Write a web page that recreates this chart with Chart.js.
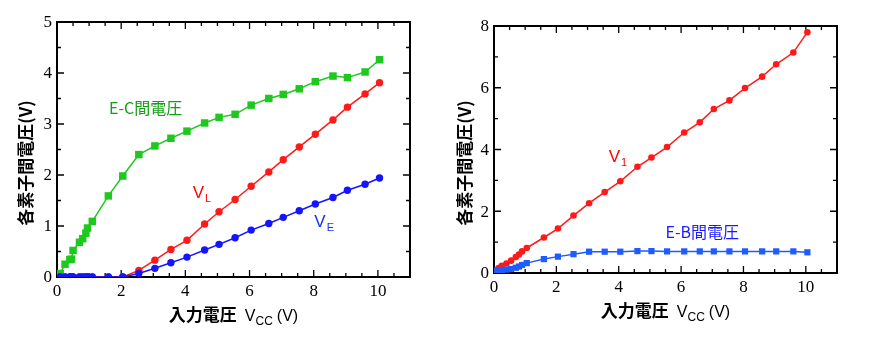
<!DOCTYPE html>
<html>
<head>
<meta charset="utf-8">
<script src="https://cdn.jsdelivr.net/npm/chart.js@4.4.1/dist/chart.umd.min.js"></script>
<style>
  body { margin: 0; background: #fff; width: 876px; height: 339px; overflow: hidden; position: relative; }
  canvas { position: absolute; top: 0; }
  #left-chart { left: 0; }
  #right-chart { left: 440px; }
</style>
</head>
<body>
<canvas id="left-chart" width="440" height="339"></canvas>
<canvas id="right-chart" width="436" height="339"></canvas>
<script>
// Left chart: E-C voltage, V_L, V_E against Vcc
const vccLeft = [0.1, 0.25, 0.4, 0.45, 0.5, 0.7, 0.8, 0.9, 0.95, 1.1, 1.6, 2.05,
    2.55, 3.05, 3.55, 4.05, 4.6, 5.05, 5.55, 6.05, 6.6, 7.05, 7.55, 8.05, 8.6, 9.05, 9.6, 10.05];
const ecVoltage = [0.07, 0.25, 0.34, 0.35, 0.52, 0.68, 0.75, 0.86, 0.96, 1.09, 1.59, 1.98,
    2.40, 2.57, 2.72, 2.86, 3.02, 3.13, 3.19, 3.37, 3.50, 3.58, 3.69, 3.83, 3.94, 3.91, 4.02, 4.26];
const vL = [0, 0, 0, 0, 0, 0, 0, 0, 0, 0, 0, 0,
    0.13, 0.33, 0.54, 0.72, 1.04, 1.28, 1.52, 1.78, 2.06, 2.30, 2.55, 2.80, 3.08, 3.33, 3.59, 3.81];
const vE = [0, 0, 0, 0, 0, 0, 0, 0, 0, 0, 0, 0,
    0.07, 0.17, 0.28, 0.39, 0.53, 0.64, 0.77, 0.92, 1.05, 1.17, 1.30, 1.43, 1.56, 1.70, 1.82, 1.94];
const xTicksLeft = [0, 2, 4, 6, 8, 10];
const yTicksLeft = [0, 1, 2, 3, 4, 5];

// Right chart: V_1 and E-B voltage against Vcc
const vccRight = [0.05, 0.15, 0.25, 0.4, 0.55, 0.7, 0.8, 0.9, 1.05, 1.6, 2.05, 2.55, 3.05, 3.55,
    4.05, 4.6, 5.05, 5.55, 6.1, 6.6, 7.05, 7.55, 8.05, 8.6, 9.05, 9.6, 10.05];
const v1 = [0.08, 0.16, 0.23, 0.31, 0.40, 0.52, 0.60, 0.70, 0.81, 1.15, 1.44, 1.86, 2.26, 2.62,
    2.97, 3.44, 3.74, 4.08, 4.55, 4.88, 5.31, 5.59, 5.99, 6.36, 6.76, 7.14, 7.80];
const ebVoltage = [0.05, 0.08, 0.10, 0.11, 0.13, 0.17, 0.21, 0.26, 0.32, 0.45, 0.53, 0.61, 0.69, 0.69,
    0.69, 0.71, 0.71, 0.70, 0.70, 0.70, 0.70, 0.70, 0.70, 0.70, 0.70, 0.70, 0.67];
const xTicksRight = [0, 2, 4, 6, 8, 10];
const yTicksRight = [0, 2, 4, 6, 8];

const toPoints = (xs, ys) => xs.map((x, i) => ({ x: x, y: ys[i] }));

const CJK = '"Noto Sans CJK JP", sans-serif';
const SANS = '"Liberation Sans", Arial, sans-serif';
const SERIF = '17px "Liberation Serif", serif';

// draw a run of text pieces (for subscripts) starting at x, baseline y
function drawParts(ctx, parts, x, y, color) {
    ctx.fillStyle = color;
    ctx.textBaseline = 'alphabetic';
    ctx.textAlign = 'left';
    for (const p of parts) {
        ctx.font = p.font;
        ctx.fillText(p.text, x, y + (p.dy || 0));
        x += ctx.measureText(p.text).width + (p.gap || 0);
    }
    return x;
}
function partsWidth(ctx, parts) {
    let w = 0;
    for (const p of parts) {
        ctx.font = p.font;
        w += ctx.measureText(p.text).width + (p.gap || 0);
    }
    return w;
}

const xTitleParts = [
    { text: '入力電圧', font: 'bold 17px ' + CJK, gap: 8 },
    { text: 'V', font: '16px ' + SANS },
    { text: 'CC', font: '12px ' + SANS, dy: 4, gap: 4 },
    { text: '(V)', font: '16px ' + SANS }
];

// frame with inward ticks on all four sides, tick labels, titles and series labels
const decoPlugin = {
    id: 'deco',
    beforeDatasetsDraw(chart, args, o) {
        const { ctx, chartArea: a, scales: { x, y } } = chart;
        ctx.save();
        ctx.strokeStyle = '#000';
        ctx.lineWidth = 1.3;
        ctx.beginPath();
        const nx = Math.round((x.max - x.min) / o.xMinor);
        for (let i = 0; i <= nx; i++) {
            const v = x.min + i * o.xMinor;
            const px = x.getPixelForValue(v);
            const len = Math.abs(v / o.xMajor - Math.round(v / o.xMajor)) < 1e-6 ? 7 : 4;
            ctx.moveTo(px, a.bottom); ctx.lineTo(px, a.bottom - len);
            ctx.moveTo(px, a.top); ctx.lineTo(px, a.top + len);
        }
        const ny = Math.round((y.max - y.min) / o.yMinor);
        for (let i = 0; i <= ny; i++) {
            const v = y.min + i * o.yMinor;
            const py = y.getPixelForValue(v);
            const len = Math.abs(v / o.yMajor - Math.round(v / o.yMajor)) < 1e-6 ? 7 : 4;
            ctx.moveTo(a.left, py); ctx.lineTo(a.left + len, py);
            ctx.moveTo(a.right, py); ctx.lineTo(a.right - len, py);
        }
        ctx.stroke();
        ctx.lineWidth = 2;
        ctx.strokeRect(a.left, a.top, a.right - a.left, a.bottom - a.top);

        // tick labels from the scales' own ticks
        ctx.font = SERIF;
        ctx.fillStyle = '#000';
        ctx.textAlign = 'center';
        ctx.textBaseline = 'top';
        for (const t of x.ticks) {
            ctx.fillText(String(t.value), x.getPixelForValue(t.value), a.bottom + 6);
        }
        ctx.textAlign = 'right';
        ctx.textBaseline = 'middle';
        for (const t of y.ticks) {
            ctx.fillText(String(t.value), a.left - 5, y.getPixelForValue(t.value) + 1);
        }
        ctx.restore();
    },
    afterDraw(chart, args, o) {
        const { ctx, chartArea: a, scales: { x, y } } = chart;
        ctx.save();
        // y title
        ctx.translate(o.yTitleX, a.top + o.yTitleDy);
        ctx.rotate(-Math.PI / 2);
        ctx.font = 'bold 17px ' + CJK;
        ctx.fillStyle = '#000';
        ctx.textAlign = 'center';
        ctx.textBaseline = 'middle';
        ctx.fillText('各素子間電圧(V)', 0, 0);
        ctx.restore();
        // x title
        ctx.save();
        const w = partsWidth(ctx, xTitleParts);
        drawParts(ctx, xTitleParts, (a.left + a.right) / 2 - w / 2, a.bottom + 44, '#000');
        // series labels
        for (const lab of o.labels) {
            drawParts(ctx, lab.parts, x.getPixelForValue(lab.x), y.getPixelForValue(lab.y), lab.color);
        }
        ctx.restore();
    }
};

function makeChart(id, datasets, cfg) {
    return new Chart(document.getElementById(id), {
        type: 'line',
        data: { datasets: datasets },
        plugins: [decoPlugin],
        options: {
            responsive: false,
            animation: false,
            layout: { padding: { left: 0, top: cfg.top, right: cfg.right, bottom: 0 } },
            plugins: {
                legend: { display: false },
                tooltip: { enabled: false },
                deco: cfg.deco
            },
            scales: {
                x: {
                    type: 'linear',
                    min: 0, max: 11,
                    afterBuildTicks: (s) => { s.ticks = cfg.xTicks.map(v => ({ value: v })); },
                    afterFit: (s) => { s.height = cfg.xHeight; },
                    grid: { display: false, drawTicks: false },
                    border: { display: false },
                    ticks: { display: false }
                },
                y: {
                    type: 'linear',
                    min: 0, max: cfg.yMax,
                    afterBuildTicks: (s) => { s.ticks = cfg.yTicks.map(v => ({ value: v })); },
                    afterFit: (s) => { s.width = cfg.yWidth; },
                    grid: { display: false, drawTicks: false },
                    border: { display: false },
                    ticks: { display: false }
                }
            }
        }
    });
}

const lineStyle = (color, shape, radius) => ({
    borderColor: color, backgroundColor: color,
    pointBackgroundColor: color, pointBorderColor: color,
    pointStyle: shape, pointRadius: radius, pointBorderWidth: 0,
    borderWidth: 1.5, tension: 0, fill: false
});

makeChart('left-chart', [
    Object.assign({ label: 'V_E', data: toPoints(vccLeft, vE) }, lineStyle('#1414ff', 'circle', 3.7)),
    Object.assign({ label: 'V_L', data: toPoints(vccLeft, vL) }, lineStyle('#ff1a1a', 'circle', 3.7)),
    Object.assign({ label: 'E-C間電圧', data: toPoints(vccLeft, ecVoltage) }, lineStyle('#1ec81e', 'rect', 5.3))
], {
    top: 22, right: 30, xHeight: 62, yWidth: 57, yMax: 5,
    xTicks: xTicksLeft, yTicks: yTicksLeft,
    deco: {
        xMinor: 0.5, xMajor: 2, yMinor: 0.5, yMajor: 1,
        yTitleX: 26, yTitleDy: 141,
        labels: [
            { x: 1.62, y: 3.2, color: '#12a012', parts: [{ text: 'E-C間電圧', font: '16px ' + CJK }] },
            { x: 4.23, y: 1.54, color: '#ff0000', parts: [
                { text: 'V', font: '17px ' + SANS, gap: 1 }, { text: 'L', font: '11px ' + SANS, dy: 4 }] },
            { x: 8.02, y: 0.98, color: '#1430ff', parts: [
                { text: 'V', font: '17px ' + SANS, gap: 1 }, { text: 'E', font: '11px ' + SANS, dy: 4 }] }
        ]
    }
});

makeChart('right-chart', [
    Object.assign({ label: 'E-B間電圧', data: toPoints(vccRight, ebVoltage) }, lineStyle('#1f5cff', 'rect', 4.4)),
    Object.assign({ label: 'V_1', data: toPoints(vccRight, v1) }, lineStyle('#ff1a1a', 'circle', 3.3))
], {
    top: 26, right: 39, xHeight: 66, yWidth: 54, yMax: 8,
    xTicks: xTicksRight, yTicks: yTicksRight,
    deco: {
        xMinor: 0.5, xMajor: 2, yMinor: 1, yMajor: 2,
        yTitleX: 25, yTitleDy: 137,
        labels: [
            { x: 3.68, y: 3.6, color: '#ff0000', parts: [
                { text: 'V', font: '17px ' + SANS, gap: 1 }, { text: '1', font: '11px ' + SANS, dy: 4 }] },
            { x: 5.5, y: 1.12, color: '#1a1aff', parts: [{ text: 'E-B間電圧', font: '16px ' + CJK }] }
        ]
    }
});
</script>
</body>
</html>
